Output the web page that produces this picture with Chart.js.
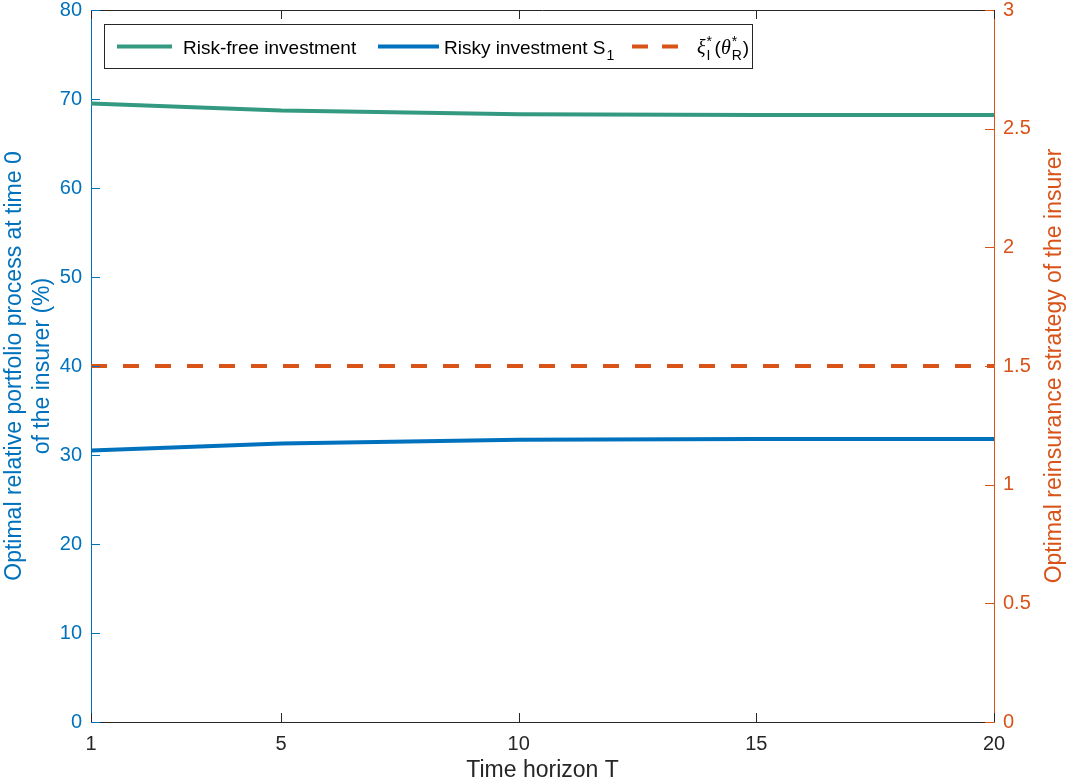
<!DOCTYPE html>
<html lang="en">
<head>
  <meta charset="UTF-8" />
  <title>Optimal portfolio and reinsurance</title>
  <script src="https://cdn.jsdelivr.net/npm/chart.js"></script>
  <style>
    body {
      margin: 0;
      background: #ffffff;
    }
    .wrap {
      width: 1068px;
      height: 783px;
    }
  </style>
</head>
<body>
  <div class="wrap">
    <canvas id="chart"></canvas>
  </div>

  <script>
    // data
    const horizons = [1, 5, 10, 15, 20];
    const riskFree = [69.5, 68.7, 68.3, 68.2, 68.2];
    const risky = [30.5, 31.3, 31.7, 31.8, 31.8];
    const reinsurance = [1.5, 1.5, 1.5, 1.5, 1.5];
    const xTicks = [1, 5, 10, 15, 20];

    const BLUE = '#0072BD';
    const ORANGE = '#D95319';
    const GREEN = '#339980';
    const DARK = '#262626';
    const FONT = "'Liberation Sans', Arial, Helvetica, sans-serif";

    const toPoints = ys => horizons.map((x, i) => ({ x: x, y: ys[i] }));

    // fixed axis sizes so the plot box lands where the original has it
    const fitY = w => scale => {
      scale.width = w;
      scale.paddingTop = 10;
    };

    // box on top edge + inward tick marks, like the original
    const framePlugin = {
      id: 'frame',
      afterDraw(chart) {
        const { ctx, chartArea: a, scales } = chart;
        const len = 9;
        ctx.save();
        ctx.lineWidth = 1;

        ctx.strokeStyle = DARK;
        ctx.beginPath();
        ctx.moveTo(a.left, a.top + 0.5);
        ctx.lineTo(a.right, a.top + 0.5);
        scales.x.ticks.forEach(t => {
          const px = Math.round(scales.x.getPixelForValue(t.value)) + 0.5;
          ctx.moveTo(px, a.bottom);
          ctx.lineTo(px, a.bottom - len);
          ctx.moveTo(px, a.top);
          ctx.lineTo(px, a.top + len);
        });
        ctx.stroke();

        ctx.strokeStyle = BLUE;
        ctx.beginPath();
        scales.y.ticks.forEach(t => {
          const py = Math.round(scales.y.getPixelForValue(t.value)) + 0.5;
          ctx.moveTo(a.left, py);
          ctx.lineTo(a.left + len, py);
        });
        ctx.stroke();

        ctx.strokeStyle = ORANGE;
        ctx.beginPath();
        scales.y1.ticks.forEach(t => {
          const py = Math.round(scales.y1.getPixelForValue(t.value)) + 0.5;
          ctx.moveTo(a.right, py);
          ctx.lineTo(a.right - len, py);
        });
        ctx.stroke();

        // right axis label reads bottom-to-top in the original
        const y1 = scales.y1;
        ctx.translate(1055, (y1.top + y1.bottom) / 2);
        ctx.rotate(-Math.PI / 2);
        ctx.fillStyle = ORANGE;
        ctx.font = '23px ' + FONT;
        ctx.textAlign = 'center';
        ctx.textBaseline = 'middle';
        ctx.fillText('Optimal reinsurance strategy of the insurer', 0, 0);
        ctx.restore();
      }
    };

    // legend with sub/superscripts, drawn by hand
    const legendPlugin = {
      id: 'mathLegend',
      afterDraw(chart) {
        const { ctx } = chart;
        const box = { x: 104.5, y: 24.5, w: 648, h: 44 };
        const cy = box.y + box.h / 2;
        const base = cy + 7;
        ctx.save();
        ctx.fillStyle = '#ffffff';
        ctx.fillRect(box.x, box.y, box.w, box.h);
        ctx.strokeStyle = DARK;
        ctx.lineWidth = 1;
        ctx.strokeRect(box.x, box.y, box.w, box.h);

        ctx.lineWidth = 4;
        ctx.strokeStyle = GREEN;
        ctx.beginPath(); ctx.moveTo(117, cy); ctx.lineTo(172, cy); ctx.stroke();
        ctx.strokeStyle = BLUE;
        ctx.beginPath(); ctx.moveTo(378, cy); ctx.lineTo(439, cy); ctx.stroke();
        ctx.strokeStyle = ORANGE;
        ctx.setLineDash([16, 14]);
        ctx.beginPath(); ctx.moveTo(632, cy); ctx.lineTo(680, cy); ctx.stroke();
        ctx.setLineDash([]);

        ctx.fillStyle = '#000000';
        ctx.textBaseline = 'alphabetic';
        ctx.font = '19px ' + FONT;
        ctx.fillText('Risk-free investment', 183, base);
        ctx.fillText('Risky investment S', 444, base);
        let x = 444 + ctx.measureText('Risky investment S').width + 1;
        ctx.font = '14px ' + FONT;
        ctx.fillText('1', x, base + 6);

        const serif = "italic 20px 'Liberation Serif', 'Times New Roman', serif";
        x = 697;
        ctx.font = serif;
        ctx.fillText('\u03BE', x, base);
        x += ctx.measureText('\u03BE').width + 1;
        ctx.font = '14px ' + FONT;
        ctx.fillText('*', x, base - 8);
        ctx.fillText('I', x, base + 6);
        x += 8;
        ctx.font = '19px ' + FONT;
        ctx.fillText('(', x, base);
        x += ctx.measureText('(').width;
        ctx.font = serif;
        ctx.fillText('\u03B8', x, base);
        x += ctx.measureText('\u03B8').width + 1;
        ctx.font = '14px ' + FONT;
        ctx.fillText('*', x, base - 8);
        ctx.fillText('R', x, base + 6);
        x += ctx.measureText('R').width + 1;
        ctx.font = '19px ' + FONT;
        ctx.fillText(')', x, base);
        ctx.restore();
      }
    };

    const ctx = document.getElementById('chart').getContext('2d');
    const chart = new Chart(ctx, {
      type: 'line',
      data: {
        datasets: [
          {
            label: 'Risk-free investment',
            data: toPoints(riskFree),
            borderColor: GREEN,
            borderWidth: 4,
            pointRadius: 0,
            tension: 0,
            yAxisID: 'y'
          },
          {
            label: 'Risky investment S1',
            data: toPoints(risky),
            borderColor: BLUE,
            borderWidth: 4,
            pointRadius: 0,
            tension: 0,
            yAxisID: 'y'
          },
          {
            label: 'xi_I*(theta_R*)',
            data: toPoints(reinsurance),
            borderColor: ORANGE,
            borderWidth: 4,
            borderDash: [16, 16],
            pointRadius: 0,
            tension: 0,
            yAxisID: 'y1'
          }
        ]
      },
      options: {
        responsive: true,
        maintainAspectRatio: false,
        animation: false,
        layout: { padding: { top: 0, left: 0, right: 0, bottom: 0 } },
        plugins: {
          legend: { display: false },
          tooltip: { enabled: false }
        },
        scales: {
          x: {
            type: 'linear',
            min: 1,
            max: 20,
            afterBuildTicks: scale => { scale.ticks = xTicks.map(v => ({ value: v })); },
            afterFit: scale => { scale.height = 61; },
            grid: { display: false, drawTicks: false },
            border: { display: true, color: DARK, width: 1 },
            ticks: { color: DARK, font: { family: FONT, size: 20 }, padding: 10, maxRotation: 0 },
            title: {
              display: true,
              text: 'Time horizon T',
              color: DARK,
              font: { family: FONT, size: 23, lineHeight: 1.1 },
              padding: { top: 0, bottom: 0 }
            }
          },
          y: {
            position: 'left',
            min: 0,
            max: 80,
            afterFit: fitY(91),
            grid: { display: false, drawTicks: false },
            border: { display: true, color: BLUE, width: 1 },
            ticks: { stepSize: 10, color: BLUE, font: { family: FONT, size: 20, lineHeight: 1 }, padding: 9 },
            title: {
              display: true,
              text: ['Optimal relative portfolio process at time 0', 'of the insurer (%)'],
              color: BLUE,
              font: { family: FONT, size: 23, lineHeight: 1.22 },
              padding: { top: 1, bottom: 0 }
            }
          },
          y1: {
            position: 'right',
            min: 0,
            max: 3,
            afterFit: fitY(74),
            grid: { display: false, drawTicks: false },
            border: { display: true, color: ORANGE, width: 1 },
            ticks: {
              stepSize: 0.5,
              color: ORANGE,
              font: { family: FONT, size: 20, lineHeight: 1 },
              padding: 9,
              callback: v => String(v)
            },
            title: { display: false }
          }
        }
      },
      plugins: [framePlugin, legendPlugin]
    });
  </script>
</body>
</html>
